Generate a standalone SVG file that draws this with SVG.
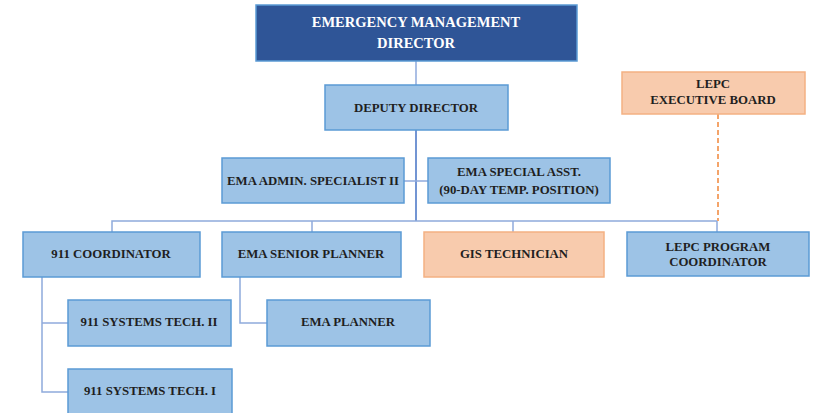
<svg xmlns="http://www.w3.org/2000/svg" width="813" height="413" viewBox="0 0 813 413">
<style>
.b{fill:#9DC3E6;stroke:#5B9BD5;stroke-width:1.5}
.o{fill:#F8CBAD;stroke:#F4B183;stroke-width:1.5}
.d{fill:#2F5597;stroke:#5B9BD5;stroke-width:1.5}
text{font-family:"Liberation Serif","Times New Roman",serif;font-weight:bold;font-size:12.8px;fill:#1F1F1F;text-anchor:middle;dominant-baseline:central}
.w{fill:#FFFFFF;font-size:14.5px}
.c{fill:none;stroke:#8FAADC;stroke-width:1.5}
</style>
<rect width="813" height="413" fill="#FFFFFF"/>
<g id="connectors">
<line class="c" x1="416" y1="61" x2="416" y2="85"/>
<line class="c" x1="416" y1="130" x2="416" y2="221" style="stroke:#4472C4"/>
<line class="c" x1="404" y1="181" x2="428" y2="181"/>
<polyline class="c" points="112,232 112,221 717,221"/>
<line class="c" x1="312" y1="221" x2="312" y2="232"/>
<line class="c" x1="513" y1="221" x2="513" y2="232"/>
<line class="c" x1="717" y1="221" x2="717" y2="232"/>
<polyline class="c" points="42,277 42,392 68,392"/>
<line class="c" x1="42" y1="323" x2="68" y2="323"/>
<polyline class="c" points="240,277 240,323 267,323"/>
<line x1="718" y1="114" x2="718" y2="221" stroke="#F4A46A" stroke-width="2" stroke-dasharray="5,3"/>
</g>
<g id="director"><rect class="d" x="256" y="5" width="321" height="56"/><text class="w" x="416" y="22">EMERGENCY MANAGEMENT</text><text class="w" x="416" y="43">DIRECTOR</text></g>
<g id="deputy"><rect class="b" x="325" y="85" width="183" height="45"/><text x="416" y="108">DEPUTY DIRECTOR</text></g>
<g id="admin"><rect class="b" x="222" y="158" width="182" height="45"/><text x="313" y="181">EMA ADMIN. SPECIALIST II</text></g>
<g id="special"><rect class="b" x="428" y="158" width="182" height="45"/><text x="519" y="172">EMA SPECIAL ASST.</text><text x="519" y="190">(90-DAY TEMP. POSITION)</text></g>
<g id="lepcboard"><rect class="o" x="622" y="72" width="183" height="42"/><text x="713" y="84">LEPC</text><text x="713" y="100">EXECUTIVE BOARD</text></g>
<g id="coord911"><rect class="b" x="23" y="232" width="177" height="45"/><text x="111" y="254">911 COORDINATOR</text></g>
<g id="senior"><rect class="b" x="222" y="232" width="179" height="45"/><text x="311" y="254">EMA SENIOR PLANNER</text></g>
<g id="gis"><rect class="o" x="424" y="232" width="180" height="45"/><text x="514" y="254">GIS TECHNICIAN</text></g>
<g id="lepcprog"><rect class="b" x="627" y="232" width="182" height="44"/><text x="718" y="247">LEPC PROGRAM</text><text x="718" y="262">COORDINATOR</text></g>
<g id="tech2"><rect class="b" x="68" y="300" width="163" height="46"/><text x="149" y="322">911 SYSTEMS TECH. II</text></g>
<g id="planner"><rect class="b" x="267" y="300" width="163" height="46"/><text x="348" y="322">EMA PLANNER</text></g>
<g id="tech1"><rect class="b" x="68" y="369" width="164" height="46"/><text x="150" y="391">911 SYSTEMS TECH. I</text></g>
</svg>
